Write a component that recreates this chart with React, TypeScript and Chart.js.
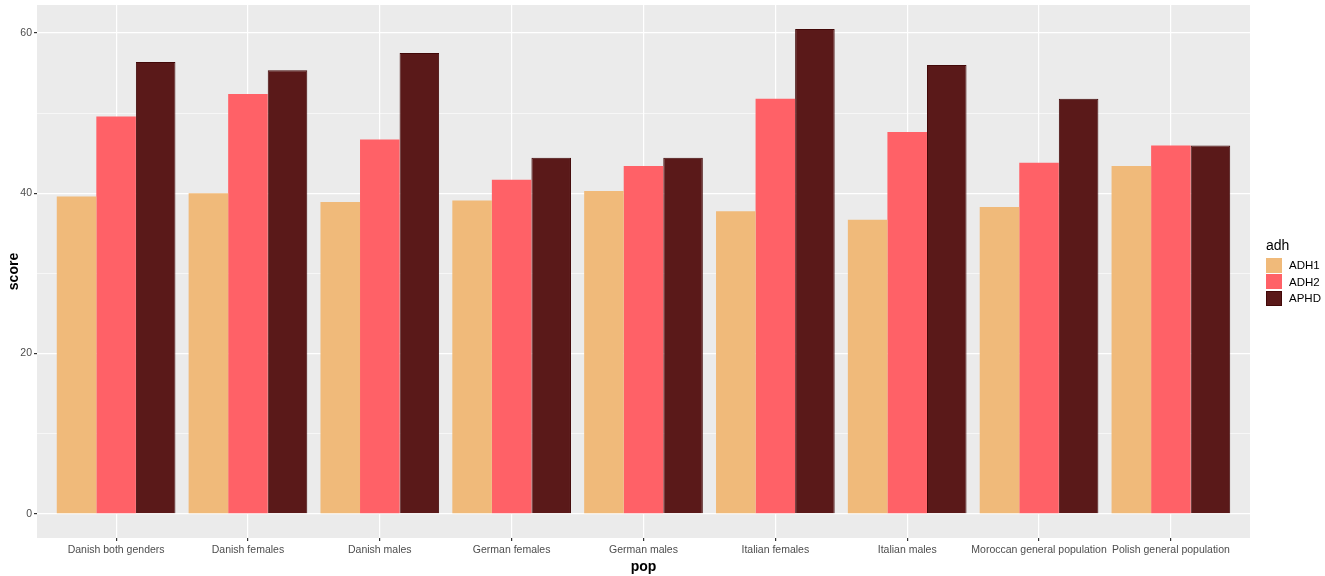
import { useEffect, useRef } from "react"
import { Chart, registerables } from "chart.js"

Chart.register(...registerables)

const categories = [
  "Danish both genders",
  "Danish females",
  "Danish males",
  "German females",
  "German males",
  "Italian females",
  "Italian males",
  "Moroccan general population",
  "Polish general population",
]
const adh1 = [39.6, 40.0, 38.9, 39.1, 40.3, 37.75, 36.7, 38.3, 43.4]
const adh2 = [49.6, 52.4, 46.7, 41.7, 43.4, 51.8, 47.65, 43.8, 45.95]
const aphd = [56.4, 55.35, 57.5, 44.45, 44.45, 60.5, 56.0, 51.8, 45.95]
const yMajorTicks = [0, 20, 40, 60]
const yMinorTicks = [10, 30, 50]

const seriesNames = ["ADH1", "ADH2", "APHD"]
const seriesColors = ["#F0BA7A", "#FF6167", "#5A1919"]
const seriesBorders = ["#F0BA7A", "#FF6167", "#420808"]

// gray ggplot-style panel behind the plot
const panelBg = {
  id: "panelBg",
  beforeDraw(chart: Chart) {
    const { ctx, chartArea } = chart
    ctx.save()
    ctx.fillStyle = "#EBEBEB"
    ctx.fillRect(chartArea.left, chartArea.top, chartArea.right - chartArea.left, chartArea.bottom - chartArea.top)
    ctx.restore()
  },
}

export default function App() {
  const chartRef = useRef<HTMLCanvasElement>(null)
  const chartInstance = useRef<Chart | null>(null)

  useEffect(() => {
    if (!chartRef.current) return
    if (chartInstance.current) chartInstance.current.destroy()

    const series = [adh1, adh2, aphd]
    const ctx = chartRef.current.getContext("2d")
    if (!ctx) return

    chartInstance.current = new Chart(ctx, {
      type: "bar",
      data: {
        datasets: series.map((vals, s) => ({
          label: seriesNames[s],
          data: vals.map((v, i) => ({ x: i + 1, y: v })),
          backgroundColor: seriesColors[s],
          borderColor: seriesBorders[s],
          borderWidth: s === 2 ? 1 : 0,
          categoryPercentage: 0.9,
          barPercentage: 1.0,
        })),
      },
      options: {
        animation: false,
        responsive: false,
        layout: { padding: { top: 5, right: 75, left: 0, bottom: 0 } },
        plugins: {
          legend: { display: false },
          tooltip: { enabled: false },
        },
        scales: {
          x: {
            type: "linear",
            offset: false,
            min: 0.4,
            max: categories.length + 0.6,
            afterBuildTicks: (scale: any) => {
              scale.ticks = categories.map((_, i) => ({ value: i + 1 }))
            },
            afterFit: (scale: any) => {
              scale.height = 38
              scale.paddingLeft = 0
              scale.paddingRight = 0
            },
            grid: {
              offset: false,
              color: "#FFFFFF",
              lineWidth: 1.2,
              tickColor: "#333333",
              tickLength: 3,
              drawTicks: true,
            },
            border: { display: false },
            ticks: {
              autoSkip: false,
              maxRotation: 0,
              padding: 3,
              color: "#4D4D4D",
              font: { family: "Liberation Sans, Arial", size: 10.5 },
              callback: (v: any) => categories[Math.round(v) - 1] ?? "",
            },
            title: {
              display: true,
              text: "pop",
              color: "#000000",
              font: { family: "Liberation Sans, Arial", size: 14, weight: "bold" },
              padding: { top: 0, bottom: 0 },
            },
          },
          y: {
            min: -3.02,
            max: 63.5,
            afterBuildTicks: (scale: any) => {
              scale.ticks = [...yMajorTicks, ...yMinorTicks]
                .sort((a, b) => a - b)
                .map((v) => ({ value: v }))
            },
            afterFit: (scale: any) => {
              scale.width = 37
              scale.paddingTop = 0
              scale.paddingBottom = 0
            },
            grid: {
              color: "#FFFFFF",
              lineWidth: (c: any) => (yMajorTicks.includes(c.tick?.value) ? 1.2 : 0.6),
              tickColor: (c: any) => (yMajorTicks.includes(c.tick?.value) ? "#333333" : "transparent"),
              tickLength: 3,
            },
            border: { display: false },
            ticks: {
              padding: 2,
              color: "#4D4D4D",
              font: { family: "Liberation Sans, Arial", size: 10.5 },
              callback: (v: any) => (yMajorTicks.includes(v) ? String(v) : ""),
            },
            title: {
              display: true,
              text: "score",
              color: "#000000",
              font: { family: "Liberation Sans, Arial", size: 14, weight: "bold" },
              padding: { top: 6, bottom: 0 },
            },
          },
        },
      },
      plugins: [panelBg],
    })

    return () => {
      if (chartInstance.current) {
        chartInstance.current.destroy()
        chartInstance.current = null
      }
    }
  }, [])

  return (
    <div style={{ position: "absolute", left: 0, top: 0, width: 1325, height: 576, background: "#fff" }}>
      <canvas ref={chartRef} width={1325} height={576} style={{ width: 1325, height: 576 }} />
      <div
        style={{
          position: "absolute",
          left: 1266,
          top: 237,
          fontFamily: "Liberation Sans, Arial",
          color: "#000",
        }}
      >
        <div style={{ fontSize: 14, marginBottom: 4 }}>adh</div>
        {seriesNames.map((name, i) => (
          <div key={name} style={{ display: "flex", alignItems: "center", height: 16.5, marginBottom: 0 }}>
            <div style={{ width: 16, height: 15, background: seriesColors[i], border: `1px solid ${seriesBorders[i]}`, boxSizing: "border-box" }} />
            <span style={{ fontSize: 11.5, marginLeft: 7, color: "#000" }}>{name}</span>
          </div>
        ))}
      </div>
    </div>
  )
}
